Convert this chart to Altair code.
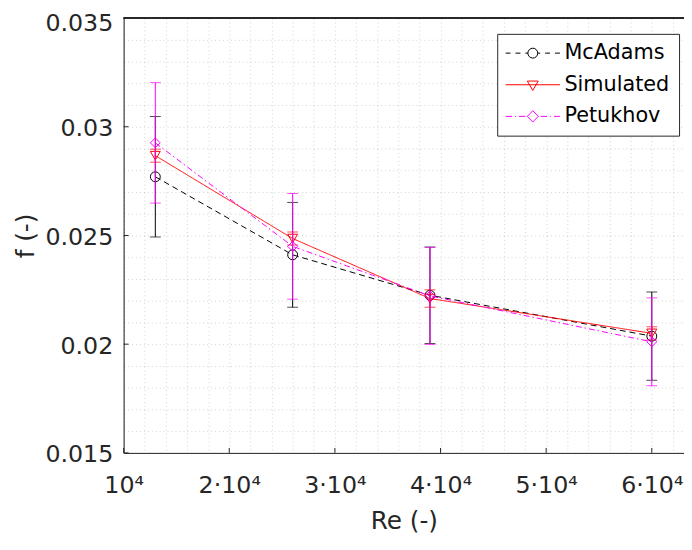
import altair as alt
import pandas as pd

# ---------------- data ----------------
re_vals = [13000, 26000, 39000, 60000]
mcadams = [0.02770, 0.02411, 0.02225, 0.02037]
mcadams_err = [0.00277, 0.00241, 0.00222, 0.00203]
simulated = [0.02867, 0.02486, 0.02210, 0.02050]
simulated_err = [0.00030, 0.00030, 0.00040, 0.00030]
petukhov = [0.02926, 0.02450, 0.02222, 0.02011]
petukhov_err = [0.00277, 0.00243, 0.00223, 0.00202]

series_names = ["McAdams", "Simulated", "Petukhov"]
series_colors = ["#000000", "#FF0000", "#FF00FF"]
series_dash = [[6, 4], [1, 0], [6, 3, 1.5, 3]]
series_shapes = ["circle", "triangle-down", "diamond"]

x_major = [10000, 20000, 30000, 40000, 50000, 60000]
y_major = [0.015, 0.02, 0.025, 0.03, 0.035]
x_grid = [10000 + 2000 * i for i in range(27)]
y_grid = [round(0.015 + 0.001 * i, 3) for i in range(21)]

# legend glyphs: line style + marker, in marker-radius units (marker centre at x=3.3)
legend_paths = [
    # dashed line with circle
    "M-2.2,0L-1.2,0M-0.2,0L0.8,0M1.8,0L2.3,0M4.3,0L4.8,0M5.8,0L6.8,0M7.8,0L8.8,0"
    "M2.3,0A1,1 0 1,0 4.3,0A1,1 0 1,0 2.3,0",
    # solid line with downward triangle
    "M-2.2,0L8.8,0M2.2,-0.75L4.4,-0.75L3.3,1.15Z",
    # dash-dot line with diamond
    "M-2.2,0L-0.9,0M-0.3,0L-0.1,0M0.5,0L1.8,0M2.2,0L2.3,0M4.4,0L4.5,0M4.9,0L6.2,0M6.8,0L7.0,0M7.6,0L8.8,0"
    "M3.3,-1.15L4.4,0L3.3,1.15L2.2,0Z",
]

FONT = "DejaVu Sans"
W, H = 567, 440

rows = []
for name, ys, es in [("McAdams", mcadams, mcadams_err),
                     ("Simulated", simulated, simulated_err),
                     ("Petukhov", petukhov, petukhov_err)]:
    for xv, yv, ev in zip(re_vals, ys, es):
        rows.append({"series": name, "Re": xv, "f": yv, "lo": yv - ev, "hi": yv + ev})
df = pd.DataFrame(rows)

xs = alt.Scale(domain=[10000, 63050], nice=False, zero=False)
ys_ = alt.Scale(domain=[0.015, 0.035], nice=False, zero=False)

x_axis = alt.Axis(
    values=x_grid, grid=True, ticks=False, domain=True, domainColor="#262626",
    gridColor="#9a9a9a", gridOpacity=0.45, gridDash=[1, 3], gridWidth=1,
    labelExpr="datum.value % 10000 == 0 ? (datum.value == 10000 ? '10⁴' : format(datum.value / 10000, 'd') + '·10⁴') : ''",
    labelFont=FONT, labelFontSize=24, labelColor="#262626", labelPadding=21,
    labelFlush=False, labelOverlap=False, labelBound=False,
    title="Re (-)", titleFont=FONT, titleFontSize=25, titleFontWeight="normal",
    titleColor="#262626", titlePadding=12,
)
y_axis = alt.Axis(
    values=y_grid, grid=True, ticks=False, domain=True, domainColor="#262626",
    gridColor="#9a9a9a", gridOpacity=0.45, gridDash=[1, 3], gridWidth=1,
    labelExpr="round(datum.value * 1000) % 5 == 0 ? format(datum.value, '.3~f') : ''",
    labelFont=FONT, labelFontSize=24, labelColor="#262626", labelPadding=11,
    labelOffset={"condition": {"test": "datum.value > 0.0345", "value": 6}, "value": 2},
    labelFlush=False, labelOverlap=False, labelBound=False,
    title="f (-)", titleFont=FONT, titleFontSize=25, titleFontWeight="normal",
    titleColor="#262626", titlePadding=6,
)

X = alt.X("Re:Q", scale=xs, axis=x_axis)
Y = alt.Y("f:Q", scale=ys_, axis=y_axis)

layers = []

# inward major ticks
xt = pd.DataFrame({"Re": x_major})
yt = pd.DataFrame({"f": y_major})
layers.append(alt.Chart(xt).mark_rule(color="#262626", strokeWidth=1).encode(
    x=X, y=alt.value(H), y2=alt.value(H - 5)))
layers.append(alt.Chart(yt).mark_rule(color="#262626", strokeWidth=1).encode(
    y=Y, x=alt.value(0), x2=alt.value(5)))

# top border
layers.append(alt.Chart(xt).mark_rule(color="#262626", strokeWidth=1).encode(
    x=alt.value(0), x2=alt.value(W), y=alt.value(0)))

for name, col, dash, shp in zip(series_names, series_colors, series_dash, series_shapes):
    d = df[df["series"] == name]
    base = alt.Chart(d)
    layers.append(base.mark_rule(color=col, strokeWidth=1).encode(
        x=X, y=alt.Y("lo:Q", scale=ys_, axis=y_axis), y2="hi:Q"))
    layers.append(base.mark_tick(color=col, orient="horizontal", size=11, thickness=1).encode(
        x=X, y=alt.Y("lo:Q", scale=ys_, axis=y_axis)))
    layers.append(base.mark_tick(color=col, orient="horizontal", size=11, thickness=1).encode(
        x=X, y=alt.Y("hi:Q", scale=ys_, axis=y_axis)))
    layers.append(base.mark_line(color=col, strokeWidth=1, strokeDash=dash).encode(x=X, y=Y))
    layers.append(base.mark_point(color=col, shape=shp, filled=False, size=100,
                                  strokeWidth=1, opacity=1).encode(x=X, y=Y))

leg = alt.Legend(
    title=None, orient="none", legendX=378, legendY=16,
    labelFont=FONT, labelFontSize=21, labelColor="#000000",
    symbolSize=100, symbolStrokeWidth=1, symbolOpacity=1,
    labelOffset=38, padding=9, rowPadding=10,
    strokeColor="#262626", fillColor="#ffffff", cornerRadius=0)

# legend carrier (invisible points)
layers.append(alt.Chart(df).mark_point(filled=False, opacity=0).encode(
    x=X, y=Y,
    color=alt.Color("series:N", scale=alt.Scale(domain=series_names, range=series_colors), legend=leg),
    shape=alt.Shape("series:N", scale=alt.Scale(domain=series_names, range=legend_paths), legend=leg),
))

chart = alt.layer(*layers).properties(
    width=W, height=H,
    autosize=alt.AutoSizeParams(type="none"),
    padding={"left": 117, "top": 7, "right": 0, "bottom": 88},
).configure_view(stroke=None).configure(background="white")

chart.save("out.html", embed_options={"renderer": "svg", "actions": False})
